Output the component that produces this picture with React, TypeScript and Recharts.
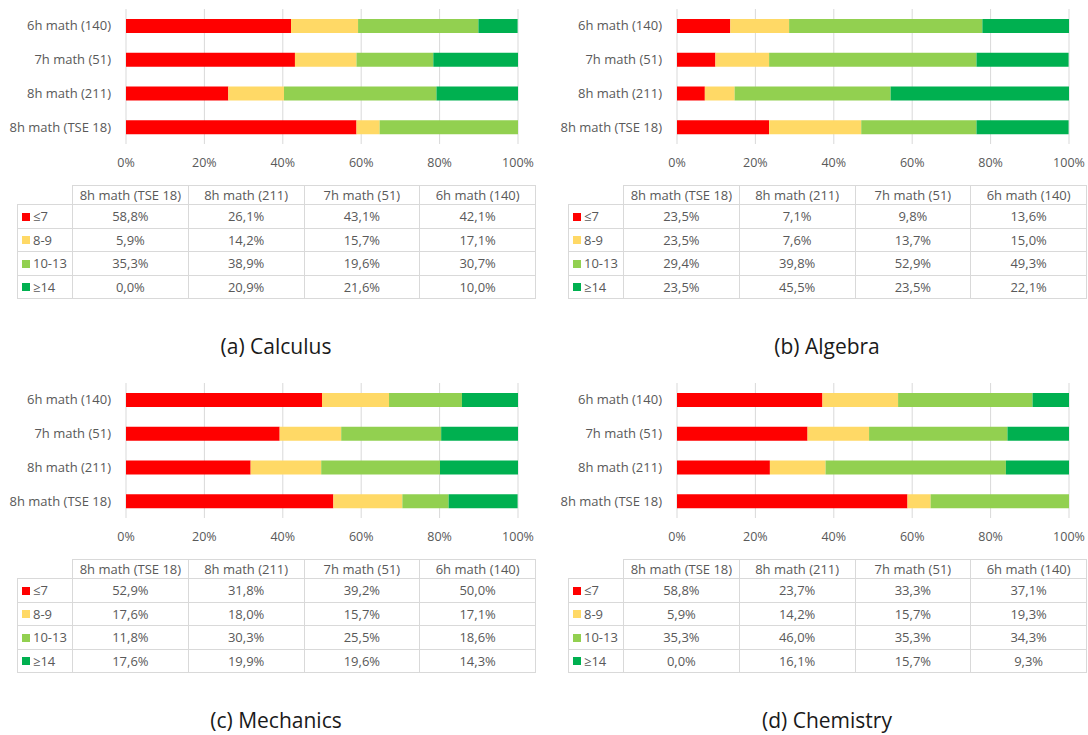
import React from "react";
import { BarChart, Bar, XAxis, YAxis, CartesianGrid } from "recharts";

const groups = ["8h math (TSE 18)", "8h math (211)", "7h math (51)", "6h math (140)"];
const bands = ["≤7", "8-9", "10-13", "≥14"];
const bandColors = ["#FF0000", "#FFD966", "#92D050", "#00B050"];
const xTicks = [0, 20, 40, 60, 80, 100];

// Calculus
const calculusLe7 = [58.8, 26.1, 43.1, 42.1];
const calculus89 = [5.9, 14.2, 15.7, 17.1];
const calculus1013 = [35.3, 38.9, 19.6, 30.7];
const calculusGe14 = [0.0, 20.9, 21.6, 10.0];

// Algebra
const algebraLe7 = [23.5, 7.1, 9.8, 13.6];
const algebra89 = [23.5, 7.6, 13.7, 15.0];
const algebra1013 = [29.4, 39.8, 52.9, 49.3];
const algebraGe14 = [23.5, 45.5, 23.5, 22.1];

// Mechanics
const mechanicsLe7 = [52.9, 31.8, 39.2, 50.0];
const mechanics89 = [17.6, 18.0, 15.7, 17.1];
const mechanics1013 = [11.8, 30.3, 25.5, 18.6];
const mechanicsGe14 = [17.6, 19.9, 19.6, 14.3];

// Chemistry
const chemistryLe7 = [58.8, 23.7, 33.3, 37.1];
const chemistry89 = [5.9, 14.2, 15.7, 19.3];
const chemistry1013 = [35.3, 46.0, 35.3, 34.3];
const chemistryGe14 = [0.0, 16.1, 15.7, 9.3];

const panels = [
  { caption: "(a) Calculus", series: [calculusLe7, calculus89, calculus1013, calculusGe14], left: 0, top: 0 },
  { caption: "(b) Algebra", series: [algebraLe7, algebra89, algebra1013, algebraGe14], left: 551, top: 0 },
  { caption: "(c) Mechanics", series: [mechanicsLe7, mechanics89, mechanics1013, mechanicsGe14], left: 0, top: 374 },
  { caption: "(d) Chemistry", series: [chemistryLe7, chemistry89, chemistry1013, chemistryGe14], left: 551, top: 374 },
];

const FONT = "'Open Sans', 'Liberation Sans', sans-serif";
const TXT = "#595959";
const BORDER = "#d9d9d9";

const fmt = (v: number) => v.toFixed(1).replace(".", ",") + "%";

function Panel({ caption, series, left, top }: { caption: string; series: number[][]; left: number; top: number }) {
  const data = groups.map((g, i) => {
    const row: Record<string, any> = { name: g };
    bands.forEach((b, j) => {
      row["s" + j] = series[j][i];
    });
    return row;
  });
  const cell: React.CSSProperties = {
    border: `1px solid ${BORDER}`,
    textAlign: "center",
    padding: 0,
    color: TXT,
    fontSize: 13,
  };
  return (
    <div style={{ position: "absolute", left, top, width: 540, height: 370 }}>
      <div style={{ position: "absolute", left: 0, top: 0 }}>
        <BarChart
          width={540}
          height={180}
          data={data}
          layout="vertical"
          margin={{ top: 9, right: 22, bottom: 6, left: 0 }}
          barCategoryGap={0}
        >
          <CartesianGrid horizontal={false} vertical={true} stroke={BORDER} strokeWidth={1} />
          <XAxis
            type="number"
            domain={[0, 100]}
            ticks={xTicks}
            allowDataOverflow
            tickFormatter={(v: number) => `${v}%`}
            axisLine={false}
            tickLine={false}
            tickMargin={8}
            tick={{ fill: TXT, fontSize: 12.5, fontFamily: FONT }}
            interval={0}
          />
          <YAxis
            type="category"
            dataKey="name"
            reversed
            width={126}
            axisLine={false}
            tickLine={false}
            tickMargin={9}
            tick={{ fill: TXT, fontSize: 13, fontFamily: FONT }}
            interval={0}
          />
          {bands.map((b, j) => (
            <Bar
              key={b}
              dataKey={"s" + j}
              stackId="a"
              fill={bandColors[j]}
              barSize={14}
              isAnimationActive={false}
            />
          ))}
        </BarChart>
      </div>
      <table
        style={{
          position: "absolute",
          left: 17,
          top: 185,
          width: 518,
          borderCollapse: "collapse",
          fontFamily: FONT,
          tableLayout: "fixed",
        }}
      >
        <colgroup>
          <col style={{ width: 55 }} />
          <col style={{ width: 115.75 }} />
          <col style={{ width: 115.75 }} />
          <col style={{ width: 115.75 }} />
          <col style={{ width: 115.75 }} />
        </colgroup>
        <thead>
          <tr style={{ height: 19 }}>
            <th style={{ border: "none", padding: 0 }}></th>
            {groups.map((g) => (
              <th key={g} style={{ ...cell, fontWeight: "normal", whiteSpace: "nowrap" }}>
                {g}
              </th>
            ))}
          </tr>
        </thead>
        <tbody>
          {bands.map((b, j) => (
            <tr key={b} style={{ height: 23.5 }}>
              <td style={{ ...cell, textAlign: "left", paddingLeft: 4, whiteSpace: "nowrap" }}>
                <span
                  style={{
                    display: "inline-block",
                    width: 8,
                    height: 8,
                    background: bandColors[j],
                    marginRight: 3,
                    verticalAlign: "middle",
                    position: "relative",
                    top: -1,
                  }}
                />
                {b}
              </td>
              {groups.map((g, i) => (
                <td key={g} style={cell}>
                  {fmt(series[j][i])}
                </td>
              ))}
            </tr>
          ))}
        </tbody>
      </table>
      <div
        style={{
          position: "absolute",
          left: 17,
          width: 518,
          top: 334,
          textAlign: "center",
          fontFamily: FONT,
          fontSize: 21,
          color: "#1a1a1a",
          lineHeight: "24px",
        }}
      >
        {caption}
      </div>
    </div>
  );
}

export default function App() {
  return (
    <div
      style={{
        position: "absolute",
        left: 0,
        top: 0,
        width: 1088,
        height: 735,
        background: "#ffffff",
        overflow: "hidden",
      }}
    >
      {panels.map((p) => (
        <Panel key={p.caption} {...p} />
      ))}
    </div>
  );
}
